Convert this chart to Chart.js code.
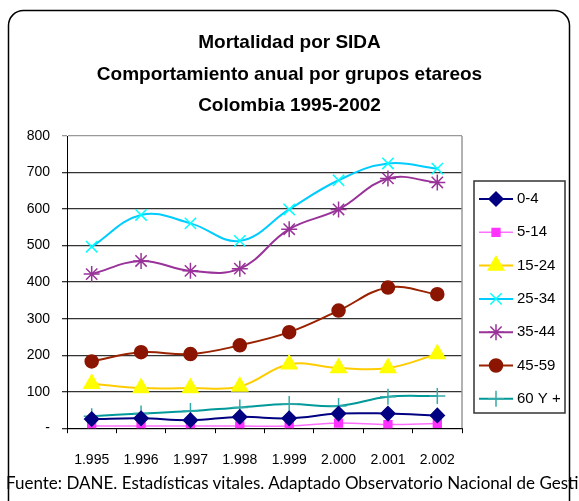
<!DOCTYPE html>
<html>
<head>
<meta charset="utf-8">
<script src="https://cdn.jsdelivr.net/npm/chart.js@4"></script>
<style>
  body { margin: 0; background: #fff; }
  #wrap { position: relative; width: 579px; height: 501px; overflow: hidden; }
  #fuente {
    position: absolute; left: 6px; top: 472px;
    font-family: Lato, 'Open Sans', sans-serif; font-size: 17px;
    white-space: nowrap; color: #000;
  }
</style>
</head>
<body>
<div id="wrap">
  <canvas id="chart" width="579" height="501"></canvas>
  <div id="fuente">Fuente: DANE. Estadísticas vitales. Adaptado Observatorio Nacional de Gestión en VIH/SIDA</div>
</div>
<script>
// Years (x axis)
const years = ['1.995', '1.996', '1.997', '1.998', '1.999', '2.000', '2.001', '2.002'];

// Deaths per age group
const grupo0a4   = [25, 27, 22, 31, 27, 40, 40, 35];
const grupo5a14  = [6, 6, 6, 6, 6, 14, 10, 13];
const grupo15a24 = [122, 110, 110, 114, 175, 165, 165, 203];
const grupo25a34 = [497, 584, 561, 513, 599, 679, 725, 711];
const grupo35a44 = [422, 458, 431, 437, 545, 599, 684, 673];
const grupo45a59 = [183, 208, 203, 227, 263, 322, 385, 367];
const grupo60    = [33, 40, 47, 57, 66, 61, 86, 88];

const seriesNames = ['0-4', '5-14', '15-24', '25-34', '35-44', '45-59', '60 Y +'];

const FONT = "'Liberation Sans', Arial, sans-serif";

function serie(label, data, line, marker, style, radius, width) {
    return {
        label: label,
        data: data,
        borderColor: line,
        backgroundColor: marker,
        pointBackgroundColor: marker,
        pointBorderColor: marker,
        pointStyle: style,
        pointRadius: radius,
        pointHoverRadius: radius,
        pointBorderWidth: 1.5,
        borderWidth: width,
        tension: 0.4,
        fill: false
    };
}

// Outer rounded frame, right border of plot area and the boxed legend
const framePlugin = {
    id: 'frame',
    beforeDraw(chart) {
        const ctx = chart.ctx;
        ctx.save();
        ctx.fillStyle = '#fff';
        ctx.fillRect(0, 0, chart.width, chart.height);
        ctx.strokeStyle = '#000';
        ctx.lineWidth = 1.5;
        ctx.beginPath();
        ctx.roundRect(8.5, 10.5, 561, 520, 15);
        ctx.stroke();
        ctx.restore();
    },
    afterDraw(chart) {
        const ctx = chart.ctx;
        const area = chart.chartArea;
        ctx.save();
        ctx.strokeStyle = '#999';
        ctx.lineWidth = 1.5;
        ctx.beginPath();
        ctx.moveTo(area.right, area.top);
        ctx.lineTo(area.right, area.bottom);
        ctx.stroke();

        // legend
        const boxX = area.right + 12, boxY = 181, boxW = 91, boxH = 232;
        ctx.strokeStyle = '#333';
        ctx.lineWidth = 1.5;
        ctx.strokeRect(boxX, boxY, boxW, boxH);
        chart.data.datasets.forEach((ds, i) => {
            const y = boxY + 18 + i * 33.3;
            ctx.strokeStyle = ds.borderColor;
            ctx.lineWidth = ds.borderWidth;
            ctx.beginPath();
            ctx.moveTo(boxX + 5, y);
            ctx.lineTo(boxX + 39, y);
            ctx.stroke();
            ctx.fillStyle = ds.pointBackgroundColor;
            ctx.strokeStyle = ds.pointBorderColor;
            ctx.lineWidth = ds.pointBorderWidth;
            Chart.helpers.drawPoint(ctx, {
                pointStyle: ds.pointStyle,
                radius: ds.pointRadius,
                rotation: 0,
                borderWidth: ds.pointBorderWidth
            }, boxX + 22, y);
            ctx.fillStyle = '#000';
            ctx.font = '15px ' + FONT;
            ctx.textBaseline = 'middle';
            ctx.textAlign = 'left';
            ctx.fillText(ds.label, boxX + 43, y);
        });
        ctx.restore();
    }
};

new Chart(document.getElementById('chart'), {
    type: 'line',
    data: {
        labels: years,
        datasets: [
            serie(seriesNames[0], grupo0a4, '#000080', '#000080', 'rectRot', 7, 2),
            serie(seriesNames[1], grupo5a14, '#FF70FF', '#FF33FF', 'rect', 5.5, 1.5),
            serie(seriesNames[2], grupo15a24, '#FFCC00', '#FFFF00', 'triangle', 9, 2),
            serie(seriesNames[3], grupo25a34, '#00CCFF', '#00FFFF', 'crossRot', 8, 2),
            serie(seriesNames[4], grupo35a44, '#993399', '#993399', 'star', 8, 2),
            serie(seriesNames[5], grupo45a59, '#992200', '#8B1500', 'circle', 6.5, 2),
            serie(seriesNames[6], grupo60, '#009999', '#33AAAA', 'cross', 8, 2)
        ]
    },
    options: {
        responsive: false,
        animation: false,
        layout: { padding: { left: 0, right: 0, top: 0, bottom: 13 } },
        plugins: {
            legend: { display: false },
            tooltip: { enabled: false },
            title: {
                display: true,
                text: ['Mortalidad por SIDA', 'Comportamiento anual por grupos etareos', 'Colombia 1995-2002'],
                color: '#000',
                font: { family: FONT, size: 19, weight: 'bold', lineHeight: 1.668 },
                padding: { top: 27, bottom: 14 }
            }
        },
        scales: {
            x: {
                offset: true,
                grid: { drawOnChartArea: false, offset: true, tickLength: 5, color: '#000' },
                border: { color: '#000', width: 1 },
                ticks: { color: '#000', font: { family: FONT, size: 14 }, padding: 19, maxRotation: 0, autoSkip: false }
            },
            y: {
                min: 0,
                max: 800,
                afterFit(s) { s.width = 67; },
                grid: {
                    tickLength: 5,
                    color: c => (c.tick && c.tick.value === 800) ? '#999' : '#333',
                    lineWidth: 1.3
                },
                border: { color: '#000', width: 1 },
                ticks: {
                    stepSize: 100,
                    color: '#000',
                    font: { family: FONT, size: 14 },
                    padding: 12,
                    callback: v => v === 0 ? '-' : v
                }
            },
            r: {
                type: 'linear',
                position: 'right',
                grid: { display: false },
                border: { display: false },
                ticks: { display: false },
                afterFit(s) { s.width = 117; }
            }
        }
    },
    plugins: [framePlugin]
});
</script>
</body>
</html>
